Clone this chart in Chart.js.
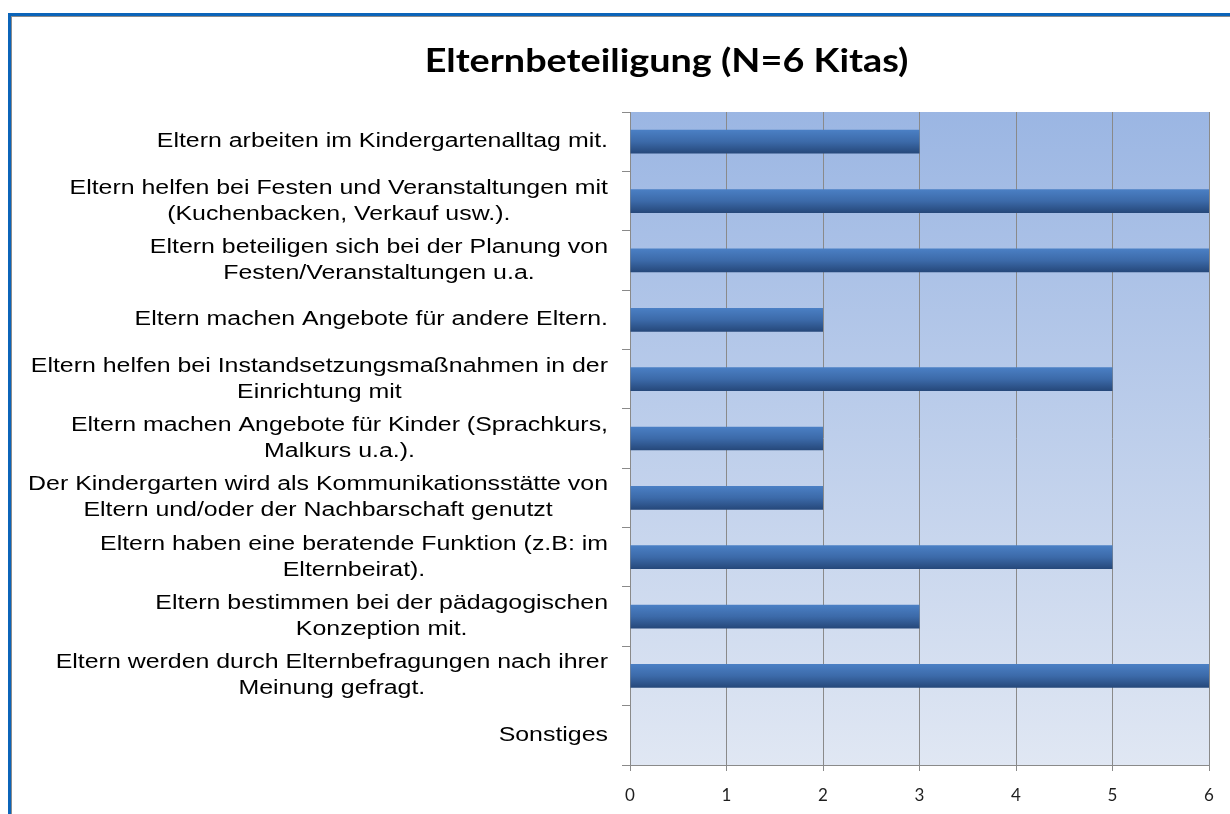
<!DOCTYPE html>
<html><head><meta charset="utf-8">
<script src="https://cdn.jsdelivr.net/npm/chart.js@4.4.0/dist/chart.umd.min.js"></script>
<style>
html,body{margin:0;padding:0;background:#fff;overflow:hidden;width:1230px;height:814px;}
#frame{position:absolute;left:8px;top:13px;width:1300px;height:900px;border-left:3px solid #0b64b9;border-top:3px solid #0b64b9;}
#inner{position:absolute;left:0;top:0;width:100%;height:100%;border-left:1px solid #8c8c8c;border-top:1px solid #8c8c8c;}
#wrap{position:absolute;left:0;top:0;width:1230px;height:814px;}
</style></head><body>
<div id="frame"><div id="inner"></div></div>
<div id="wrap"><canvas id="c" width="1230" height="814"></canvas></div>
<script>
const chartTitle = 'Elternbeteiligung (N=6 Kitas)';
const categories = [
  ['Eltern arbeiten im Kindergartenalltag mit.'],
  ['Eltern helfen bei Festen und Veranstaltungen mit', '(Kuchenbacken, Verkauf usw.).'],
  ['Eltern beteiligen sich bei der Planung von', 'Festen/Veranstaltungen u.a.'],
  ['Eltern machen Angebote für andere Eltern.'],
  ['Eltern helfen bei Instandsetzungsmaßnahmen in der', 'Einrichtung mit'],
  ['Eltern machen Angebote für Kinder (Sprachkurs,', 'Malkurs u.a.).'],
  ['Der Kindergarten wird als Kommunikationsstätte von', 'Eltern und/oder der Nachbarschaft genutzt'],
  ['Eltern haben eine beratende Funktion (z.B: im', 'Elternbeirat).'],
  ['Eltern bestimmen bei der pädagogischen', 'Konzeption mit.'],
  ['Eltern werden durch Elternbefragungen nach ihrer', 'Meinung gefragt.'],
  ['Sonstiges']
];
const values = [3, 6, 6, 2, 5, 2, 2, 5, 3, 6, 0];
const xTicks = [0, 1, 2, 3, 4, 5, 6];

const bgPlugin = {
  id: 'bgPlugin',
  beforeDraw(chart) {
    const {ctx, chartArea: a} = chart;
    const g = ctx.createLinearGradient(0, a.top, 0, a.bottom);
    g.addColorStop(0, '#9bb6e3');
    g.addColorStop(1, '#e0e7f3');
    ctx.save();
    ctx.fillStyle = g;
    ctx.fillRect(a.left, a.top, a.right - a.left, a.bottom - a.top);
    ctx.restore();
  }
};

const textPlugin = {
  id: 'textPlugin',
  afterDraw(chart) {
    const {ctx, chartArea: a} = chart;
    const yS = chart.scales.y;
    // title (horizontally widened like the reference)
    ctx.save();
    ctx.font = 'bold 33px Lato, sans-serif';
    ctx.fillStyle = '#000';
    ctx.textAlign = 'center';
    ctx.textBaseline = 'middle';
    ctx.translate(666.5, 61);
    ctx.scale(1.145, 1);
    ctx.fillText(chartTitle, 0, 0);
    ctx.restore();
    // category labels
    ctx.save();
    ctx.font = '20px "Liberation Sans", Arial, sans-serif';
    ctx.fillStyle = '#000';
    ctx.textBaseline = 'middle';
    ctx.textAlign = 'center';
    const sx = 1.245;
    const rightEdge = a.left - 22;
    const lh = 26;
    ctx.translate(rightEdge, 0);
    ctx.scale(sx, 1);
    categories.forEach((lines, i) => {
      const yc = yS.getPixelForValue(i);
      const w = Math.max(...lines.map(l => ctx.measureText(l).width));
      const cx = -w / 2;
      lines.forEach((l, j) => ctx.fillText(l, cx, yc + (j - (lines.length - 1) / 2) * lh));
    });
    ctx.restore();
  }
};

function barFill(c) {
  const chart = c.chart;
  const yS = chart.scales.y;
  if (!yS || !chart.chartArea) return '#3c6aa9';
  const yc = yS.getPixelForValue(c.dataIndex);
  const half = 12;
  const g = chart.ctx.createLinearGradient(0, yc - half, 0, yc + half);
  g.addColorStop(0, '#4b80c5');
  g.addColorStop(0.5, '#3c6aa9');
  g.addColorStop(1, '#254779');
  return g;
}

new Chart(document.getElementById('c'), {
  type: 'bar',
  data: {
    labels: categories,
    datasets: [{
      data: values,
      backgroundColor: barFill,
      borderWidth: 0,
      barPercentage: 0.4,
      categoryPercentage: 1.0
    }]
  },
  options: {
    indexAxis: 'y',
    responsive: false,
    animation: false,
    devicePixelRatio: 1,
    layout: {padding: {left: 124, right: 21, top: 112, bottom: 0}},
    plugins: {
      legend: {display: false},
      tooltip: {enabled: false},
      title: {display: false}
    },
    scales: {
      x: {
        min: 0, max: 6,
        afterBuildTicks(s) { s.ticks = xTicks.map(v => ({value: v})); },
        afterFit(s) { s.height = 49; },
        grid: {color: '#8a8a8a', lineWidth: 1, drawTicks: true, tickLength: 6},
        border: {display: true, color: '#8a8a8a', width: 1},
        ticks: {color: '#1e1e1e', font: {family: 'Lato', size: 17}, padding: 14, maxRotation: 0}
      },
      y: {
        afterFit(s) { s.width = 506; },
        grid: {drawOnChartArea: false, drawTicks: true, tickLength: 8, color: '#8a8a8a', offset: true},
        border: {display: true, color: '#8a8a8a', width: 1},
        ticks: {display: false}
      }
    }
  },
  plugins: [bgPlugin, textPlugin]
});
</script>
</body></html>
